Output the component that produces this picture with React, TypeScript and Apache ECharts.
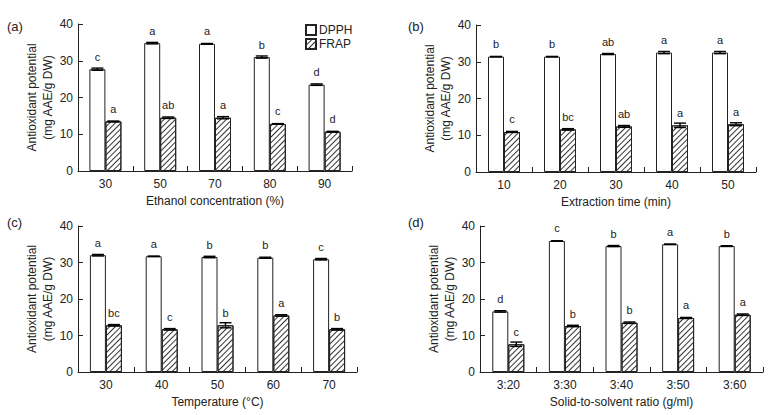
import React, { useEffect, useRef } from "react";
import * as echarts from "echarts";

const catsA = ["30", "50", "70", "80", "90"];
const dpphA = [27.7, 34.8, 34.6, 31.0, 23.5];
const dpphErrA = [0.3, 0.2, 0.1, 0.3, 0.2];
const frapA = [13.5, 14.5, 14.5, 12.8, 10.7];
const frapErrA = [0.1, 0.2, 0.3, 0.1, 0.1];
const dpphLetA = ["c", "a", "a", "b", "d"];
const frapLetA = ["a", "ab", "a", "c", "d"];

const catsB = ["10", "20", "30", "40", "50"];
const dpphB = [31.4, 31.4, 32.1, 32.5, 32.5];
const dpphErrB = [0.05, 0.05, 0.15, 0.3, 0.3];
const frapB = [10.9, 11.6, 12.4, 12.7, 13.0];
const frapErrB = [0.15, 0.2, 0.25, 0.6, 0.4];
const dpphLetB = ["b", "b", "ab", "a", "a"];
const frapLetB = ["c", "bc", "ab", "a", "a"];

const catsC = ["30", "40", "50", "60", "70"];
const dpphC = [32.0, 31.7, 31.5, 31.3, 30.9];
const dpphErrC = [0.2, 0.05, 0.2, 0.15, 0.2];
const frapC = [12.8, 11.7, 12.8, 15.5, 11.7];
const frapErrC = [0.2, 0.2, 0.7, 0.2, 0.2];
const dpphLetC = ["a", "a", "b", "b", "c"];
const frapLetC = ["bc", "c", "b", "a", "b"];

const catsD = ["3:20", "3:30", "3:40", "3:50", "3:60"];
const dpphD = [16.6, 35.9, 34.5, 35.0, 34.5];
const dpphErrD = [0.2, 0.05, 0.15, 0.05, 0.1];
const frapD = [7.6, 12.6, 13.5, 14.8, 15.7];
const frapErrD = [0.6, 0.2, 0.2, 0.15, 0.2];
const dpphLetD = ["d", "c", "b", "a", "b"];
const frapLetD = ["c", "b", "b", "a", "a"];

const yTicksMax = 40;
const yTickStep = 10;

const panels = [
  { tag: "(a)", xName: "Ethanol concentration (%)", cats: catsA, dpph: dpphA, dErr: dpphErrA, frap: frapA, fErr: frapErrA, dLet: dpphLetA, fLet: frapLetA },
  { tag: "(b)", xName: "Extraction time (min)", cats: catsB, dpph: dpphB, dErr: dpphErrB, frap: frapB, fErr: frapErrB, dLet: dpphLetB, fLet: frapLetB },
  { tag: "(c)", xName: "Temperature (°C)", cats: catsC, dpph: dpphC, dErr: dpphErrC, frap: frapC, fErr: frapErrC, dLet: dpphLetC, fLet: frapLetC },
  { tag: "(d)", xName: "Solid-to-solvent ratio (g/ml)", cats: catsD, dpph: dpphD, dErr: dpphErrD, frap: frapD, fErr: frapErrD, dLet: dpphLetD, fLet: frapLetD },
];

const gridBoxes = [
  { left: 78, top: 24, width: 274, height: 147 },
  { left: 476, top: 25, width: 280, height: 147 },
  { left: 78, top: 226, width: 279, height: 146 },
  { left: 480, top: 226, width: 283, height: 146 },
];
const tagPos = [
  { x: 7, y: 20 },
  { x: 408, y: 20 },
  { x: 7, y: 216 },
  { x: 408, y: 216 },
];

const FONT = "Liberation Sans, Arial, sans-serif";
const INK = "#222";
const BAR_W = 16;

const hatch = {
  symbol: "rect",
  symbolSize: 1,
  dashArrayX: [1, 0],
  dashArrayY: [0.9, 2.1],
  rotation: -Math.PI / 4,
  color: "#333",
  backgroundColor: "#fff",
};

function errRender(offset: number) {
  return (params: any, api: any) => {
    const i = api.value(0);
    const v = api.value(1);
    const e = api.value(2);
    const t = api.coord([i, v + e]);
    const b = api.coord([i, v - e]);
    const x = t[0] + offset;
    const st = { stroke: "#000", lineWidth: 1.4 };
    return {
      type: "group",
      children: [
        { type: "line", shape: { x1: x, y1: t[1], x2: x, y2: b[1] }, style: st },
        { type: "line", shape: { x1: x - 6, y1: t[1], x2: x + 6, y2: t[1] }, style: st },
        { type: "line", shape: { x1: x - 6, y1: b[1], x2: x + 6, y2: b[1] }, style: st },
      ],
    };
  };
}

function buildOption() {
  const grid: any[] = [];
  const xAxis: any[] = [];
  const yAxis: any[] = [];
  const series: any[] = [];
  const graphic: any[] = [];
  panels.forEach((p, k) => {
    grid.push({ ...gridBoxes[k], containLabel: false });
    xAxis.push({
      type: "category",
      gridIndex: k,
      data: p.cats,
      name: p.xName,
      nameLocation: "middle",
      nameGap: 24,
      nameTextStyle: { fontFamily: FONT, fontSize: 12, color: INK },
      axisLine: { lineStyle: { color: INK, width: 1 } },
      axisTick: { show: true, inside: true, length: 5, lineStyle: { color: INK } },
      axisLabel: { fontFamily: FONT, fontSize: 12, color: INK, margin: 7 },
      splitLine: { show: false },
    });
    yAxis.push({
      type: "value",
      gridIndex: k,
      min: 0,
      max: yTicksMax,
      interval: yTickStep,
      name: "Antioxidant potential\n(mg AAE/g DW)",
      nameLocation: "middle",
      nameRotate: 90,
      nameGap: 22,
      nameTextStyle: { fontFamily: FONT, fontSize: 12, color: INK, lineHeight: 16 },
      axisLine: { show: true, lineStyle: { color: INK, width: 1 } },
      axisTick: { show: true, inside: true, length: 5, lineStyle: { color: INK } },
      axisLabel: { fontFamily: FONT, fontSize: 12, color: INK, margin: 5 },
      splitLine: { show: false },
    });
    const labelStyle = (letters: string[]) => ({
      show: true,
      position: "top",
      distance: 7,
      fontFamily: FONT,
      fontSize: 11,
      color: INK,
      formatter: (q: any) => letters[q.dataIndex],
    });
    series.push({
      type: "bar",
      name: "DPPH",
      xAxisIndex: k,
      yAxisIndex: k,
      data: p.dpph,
      barWidth: BAR_W,
      barGap: "0%",
      itemStyle: { color: "#fff", borderColor: INK, borderWidth: 1 },
      label: labelStyle(p.dLet),
      z: 2,
    });
    series.push({
      type: "bar",
      name: "FRAP",
      xAxisIndex: k,
      yAxisIndex: k,
      data: p.frap,
      barWidth: BAR_W,
      barGap: "0%",
      itemStyle: { color: "#fff", borderColor: INK, borderWidth: 1, decal: hatch },
      label: labelStyle(p.fLet),
      z: 2,
    });
    series.push({
      type: "custom",
      xAxisIndex: k,
      yAxisIndex: k,
      renderItem: errRender(-BAR_W / 2),
      data: p.dpph.map((v, i) => [i, v, p.dErr[i]]),
      encode: { x: 0, y: 1 },
      z: 5,
      silent: true,
    });
    series.push({
      type: "custom",
      xAxisIndex: k,
      yAxisIndex: k,
      renderItem: errRender(BAR_W / 2),
      data: p.frap.map((v, i) => [i, v, p.fErr[i]]),
      encode: { x: 0, y: 1 },
      z: 5,
      silent: true,
    });
    graphic.push({
      type: "text",
      left: tagPos[k].x,
      top: tagPos[k].y,
      style: { text: p.tag, font: `13px ${FONT}`, fill: INK },
    });
  });
  return {
    animation: false,
    backgroundColor: "#fff",
    aria: { enabled: false, decal: { show: false } },
    legend: {
      orient: "vertical",
      left: 300,
      top: 19,
      itemWidth: 10,
      itemHeight: 10,
      itemGap: 2,
      icon: "rect",
      data: ["DPPH", "FRAP"],
      textStyle: { fontFamily: FONT, fontSize: 12, color: INK, padding: [0, 0, 0, -2] },
    },
    grid,
    xAxis,
    yAxis,
    series,
    graphic,
  };
}

export default function App() {
  const ref = useRef<HTMLDivElement>(null);
  useEffect(() => {
    if (!ref.current) return;
    const chart = echarts.init(ref.current, undefined, { renderer: "svg" });
    chart.setOption(buildOption() as any);
    return () => chart.dispose();
  }, []);
  return (
    <div
      ref={ref}
      style={{ position: "fixed", left: 0, top: 0, width: 777, height: 415, background: "#fff" }}
    />
  );
}
